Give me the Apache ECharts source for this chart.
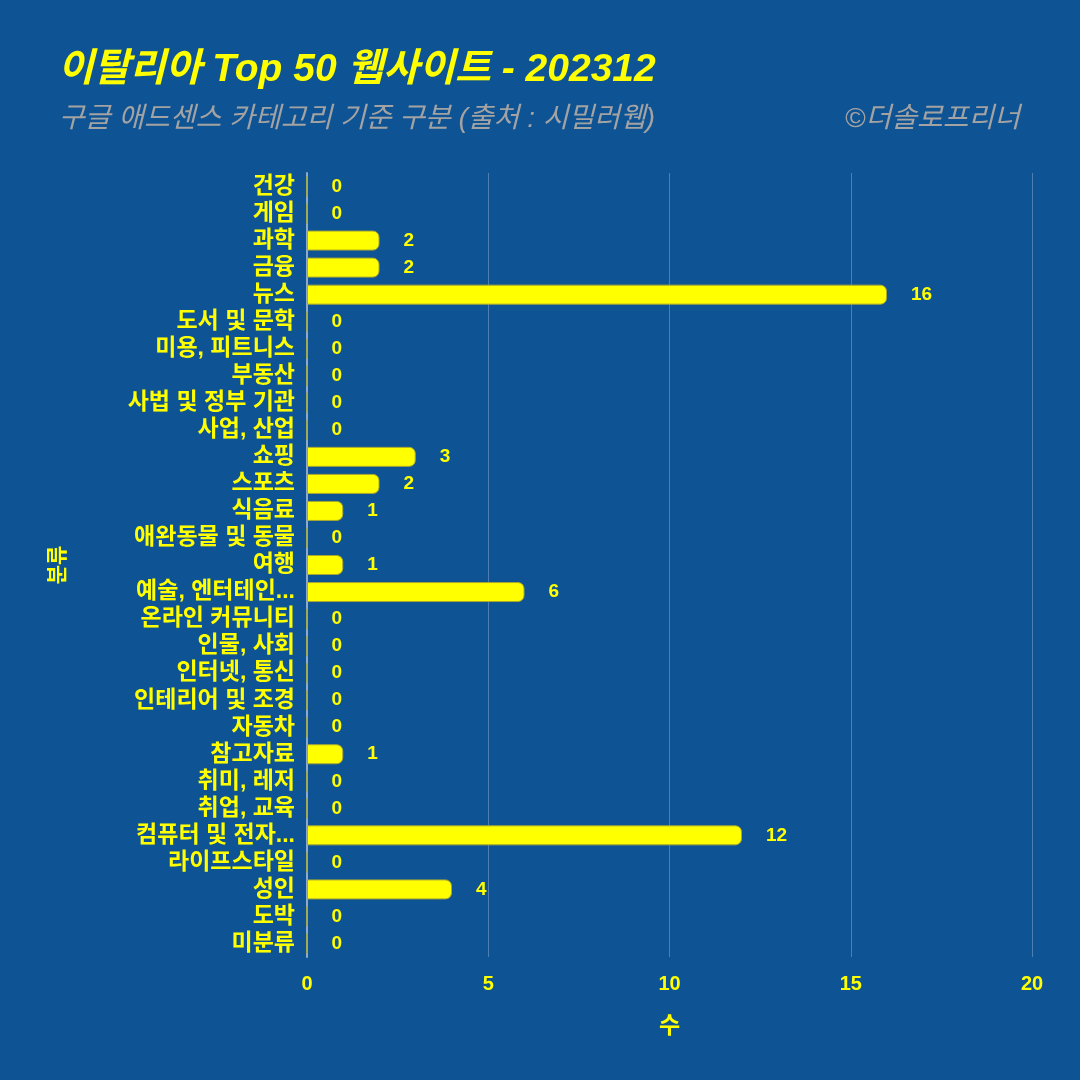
<!DOCTYPE html>
<html>
<head>
<meta charset="utf-8">
<script src="https://cdn.jsdelivr.net/npm/echarts@6/dist/echarts.min.js"></script>
<style>
html,body{margin:0;padding:0;background:#0e5394;}
#c{width:1080px;height:1080px;}
</style>
</head>
<body>
<div id="c"></div>
<script>
const categories = ["건강","게임","과학","금융","뉴스","도서 및 문학","미용, 피트니스","부동산","사법 및 정부 기관","사업, 산업","쇼핑","스포츠","식음료","애완동물 및 동물","여행","예술, 엔터테인먼트","온라인 커뮤니티","인물, 사회","인터넷, 통신","인테리어 및 조경","자동차","참고자료","취미, 레저","취업, 교육","컴퓨터 및 전자제품","라이프스타일","성인","도박","미분류"];
const counts = [0,0,2,2,16,0,0,0,0,0,3,2,1,0,1,6,0,0,0,0,0,1,0,0,12,0,4,0,0];
const xTicks = [0,5,10,15,20];

const titleText = "이탈리아 Top 50 웹사이트 - 202312";
const subtitleText = "구글 애드센스 카테고리 기준 구분 (출처 : 시밀러웹)";
const creditText = "©더솔로프리너";

const FONT = '"Liberation Sans", "Noto Sans CJK KR", sans-serif';
const YEL = '#ffff00';

function shortLabel(s){
  if (s === "예술, 엔터테인먼트" || s === "컴퓨터 및 전자제품") return s.slice(0,8) + '...';
  return s;
}

const chart = echarts.init(document.getElementById('c'));
chart.setOption({
  backgroundColor: '#0e5394',
  animation: false,
  title: [
    {text: titleText, left: 53, top: 46,
     textStyle:{color: YEL, fontSize: 39, fontWeight: 'bold', fontStyle: 'italic', fontFamily: FONT}},
    {text: subtitleText, left: 54, top: 100,
     textStyle:{color: '#a3a3a3', fontSize: 28, fontWeight: 'normal', fontStyle: 'italic', fontFamily: FONT}},
    {text: creditText, right: 55, top: 100,
     textStyle:{color: '#a3a3a3', fontSize: 28, fontWeight: 'normal', fontStyle: 'italic', fontFamily: FONT}}
  ],
  grid: {left: 307, right: 48, top: 173, bottom: 123, containLabel: false},
  xAxis: {
    type: 'value', min: 0, max: 20, interval: 5,
    name: '수', nameLocation: 'middle', nameGap: 58,
    nameTextStyle: {color: YEL, fontSize: 23, fontWeight: 'bold', fontFamily: FONT},
    axisLine: {show: false},
    axisTick: {show: false},
    axisLabel: {color: YEL, fontSize: 20, fontWeight: 'bold', fontFamily: FONT, margin: 17},
    splitLine: {show: true, lineStyle: {color: '#4d7db3', width: 1}}
  },
  yAxis: {
    type: 'category', data: categories, inverse: true,
    name: '분류', nameLocation: 'middle', nameGap: 238, nameRotate: 90,
    nameTextStyle: {color: YEL, fontSize: 21, fontWeight: 'bold', fontFamily: FONT},
    axisLine: {show: true, lineStyle: {color: '#8ea9c9', width: 2}},
    axisTick: {show: false},
    axisLabel: {interval: 0, color: YEL, fontSize: 23, fontWeight: 'bold', fontFamily: FONT, margin: 12,
      formatter: shortLabel},
    splitLine: {show: false}
  },
  series: [{
    type: 'bar', data: counts, barWidth: 20,
    itemStyle: {color: YEL, borderColor: '#a8a830', borderWidth: 1, borderRadius: [0,6,6,0]},
    label: {show: true, position: 'right', distance: 24, color: YEL, fontSize: 19,
      fontWeight: 'bold', fontFamily: FONT}
  }]
});
</script>
</body>
</html>
